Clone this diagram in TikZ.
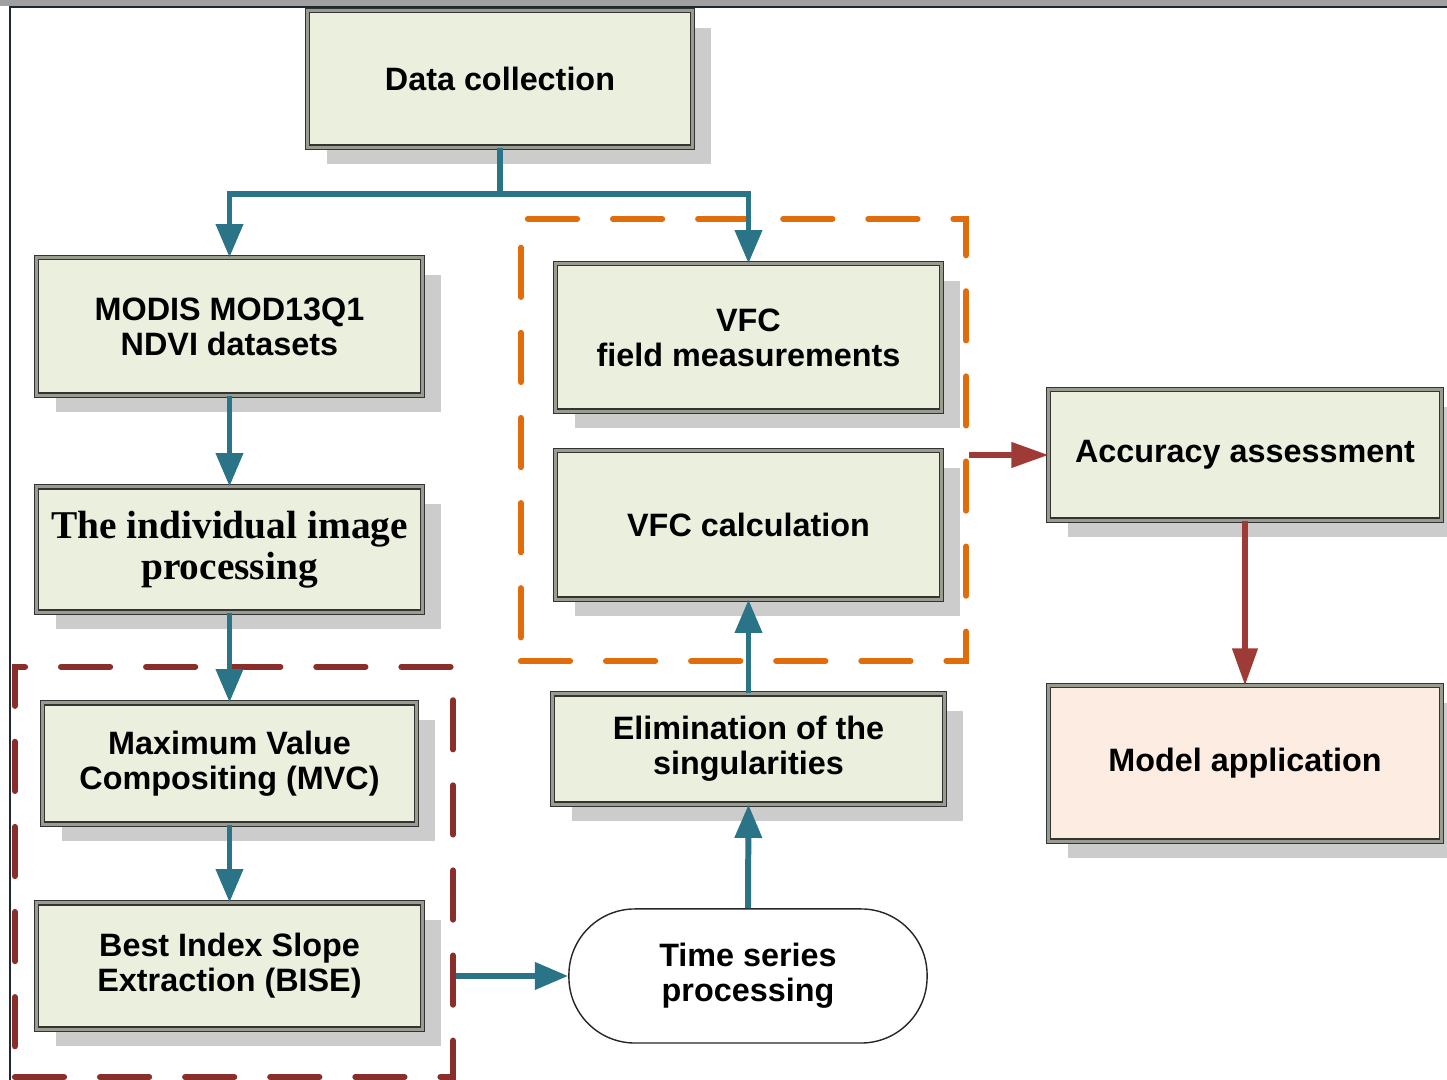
\documentclass[tikz,border=0pt]{standalone}
\usepackage{fontspec}
\setmainfont{Liberation Sans}
\newfontfamily\serifbold{Liberation Serif}
\usetikzlibrary{arrows.meta,shadows,calc}
\definecolor{boxfill}{HTML}{EBEFDE}
\definecolor{modelfill}{HTML}{FCECE1}
\definecolor{shadowgray}{HTML}{CCCCCC}
\definecolor{midgray}{HTML}{9A9C90}
\definecolor{flowblue}{HTML}{2B7386}
\definecolor{flowred}{HTML}{9E3B36}
\definecolor{dashorange}{HTML}{E36C0A}
\definecolor{dashred}{HTML}{8A2E2B}
\definecolor{framedark}{HTML}{1E2830}
\definecolor{frameband}{HTML}{A0A0A0}
\tikzset{
  box/.style={draw=black!80, double=midgray, double distance=0.85pt, line width=0.3pt,
    fill=boxfill, align=center, inner sep=0pt,
    font=\bfseries\fontsize{9.2}{10}\selectfont,
    drop shadow={shadow xshift=0.19cm, shadow yshift=-0.17cm, fill=shadowgray, opacity=1}},
  serifbox/.style={box, font=\serifbold\bfseries\fontsize{11.2}{11.7}\selectfont},
  stadium/.style={draw=black!85, line width=0.4pt, fill=white, rounded corners=0.66cm,
    align=center, inner sep=0pt, font=\bfseries\fontsize{9.2}{10}\selectfont},
  groupbox/.style={line width=1.7pt, dash pattern=on 14pt off 10.2pt, line cap=round,
    inner sep=0pt, fill=none},
  flow/.style={draw=flowblue, line width=1.7pt, -{Triangle[width=7.5pt,length=9.5pt]}},
  redflow/.style={draw=flowred, line width=1.5pt, -{Triangle[width=7pt,length=10.5pt]}}
}
\begin{document}
\begin{tikzpicture}[x=0.01cm, y=-0.01cm]
\useasboundingbox (0,0) rectangle (1447,1080);
\fill[white] (0,0) rectangle (1447,1080);
% frame
\fill[frameband] (0,0) rectangle (1447,6);
\draw[framedark, line width=0.6pt] (10,1080) -- (10,7) -- (1447,7);

% nodes
\node[box, minimum width=3.84cm, minimum height=1.36cm] (dc) at (500,79) {Data collection};
\node[box, minimum width=3.85cm, minimum height=1.37cm] (modis) at (229.5,326.5) {MODIS MOD13Q1\\NDVI datasets};
\node[serifbox, minimum width=3.85cm, minimum height=1.25cm] (indiv) at (229.5,549.5) {The individual image\\processing};
\node[box, minimum width=3.73cm, minimum height=1.21cm] (mvc) at (229.5,763.5) {Maximum Value\\Compositing (MVC)};
\node[box, minimum width=3.85cm, minimum height=1.26cm] (bise) at (229.5,966) {Best Index Slope\\Extraction (BISE)};
\node[box, minimum width=3.85cm, minimum height=1.47cm] (vfcf) at (748.5,337.5) {VFC\\field measurements};
\node[box, minimum width=3.85cm, minimum height=1.48cm] (vfcc) at (748.5,525) {VFC calculation};
\node[box, minimum width=3.91cm, minimum height=1.10cm] (elim) at (748.5,749) {Elimination of the\\singularities};
\node[stadium, minimum width=3.58cm, minimum height=1.34cm] (ts) at (748,976) {Time series\\processing};
\node[box, minimum width=3.92cm, minimum height=1.30cm] (acc) at (1245,455) {Accuracy assessment};
\node[box, fill=modelfill, minimum width=3.92cm, minimum height=1.55cm] (model) at (1245,763.5) {Model application};

% dashed groups
\node[groupbox, draw=dashorange, minimum width=4.45cm, minimum height=4.42cm] (grpB) at (743.5,440) {};
\node[groupbox, draw=dashred, minimum width=4.38cm, minimum height=4.10cm] (grpA) at (234,872) {};

% connectors
\draw[flow] (dc.south) -- ++(0,46) -| (modis.north);
\draw[flow] (dc.south) -- ++(0,46) -| (vfcf.north);
\draw[flow] (modis.south) -- (indiv.north);
\draw[flow] (indiv.south) -- (mvc.north);
\draw[flow] (mvc.south) -- (bise.north);
\draw[flow] (grpA.east |- ts.west) -- (ts.west);
\draw[flow] (ts.north) -- (elim.south);
\draw[flow] (elim.north) -- (vfcc.south);
\draw[redflow] (grpB.east |- acc.west) -- (acc.west);
\draw[redflow] (acc.south) -- (model.north);
\end{tikzpicture}
\end{document}
